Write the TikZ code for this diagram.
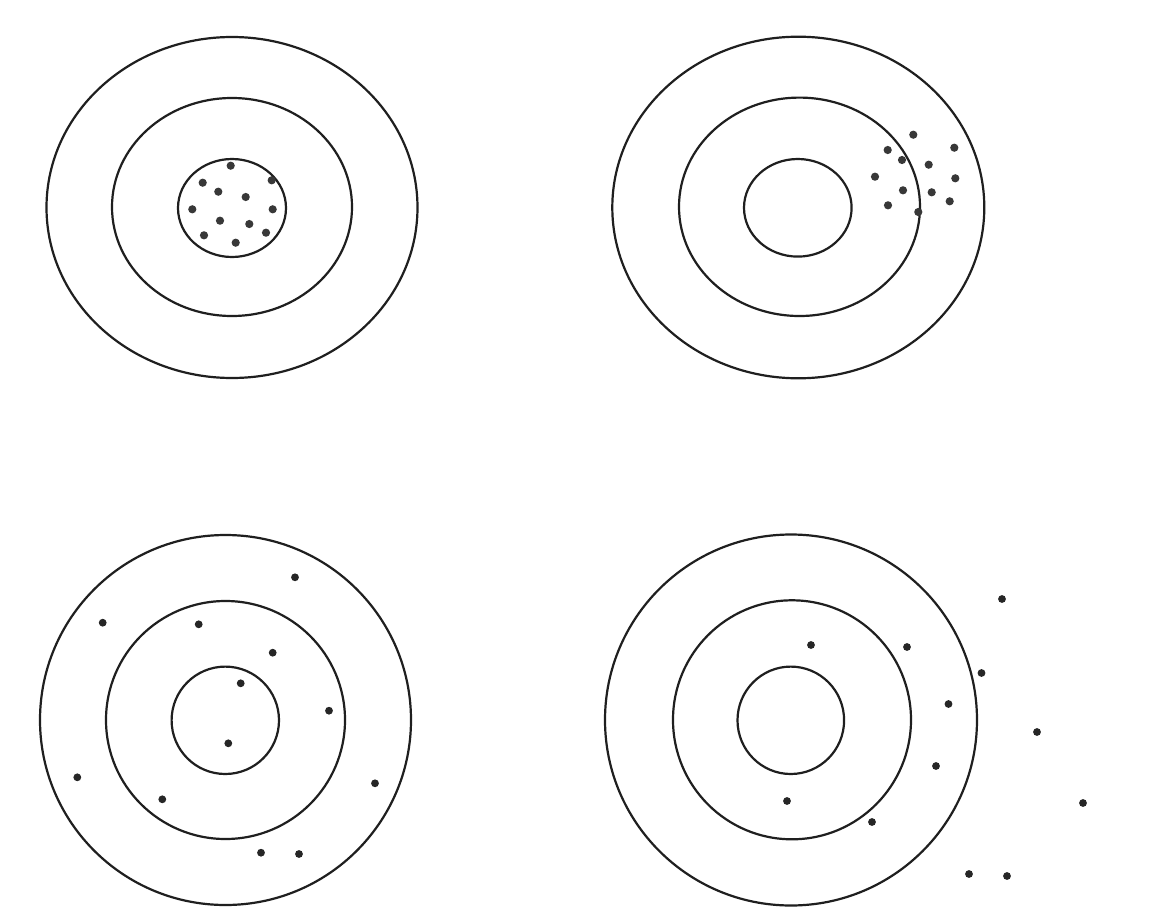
\documentclass[tikz,border=0pt]{standalone}
\begin{document}
\begin{tikzpicture}[x=1pt,y=-1pt,
  ring/.style={draw=black!88, line width=2.2pt},
  shot/.style={fill=black!85, draw=none},
  shotb/.style={fill=black!78, draw=none}]
\useasboundingbox[fill=white] (0,0) rectangle (1162,907);

% Target 1: tight cluster in the bull
\coordinate (t1) at (232,207.5);
\draw[ring] (t1) ellipse [x radius=185.5pt, y radius=170.5pt];
\draw[ring] (232,207) ellipse [x radius=120pt, y radius=109pt];
\draw[ring] (232,208) ellipse [x radius=54pt, y radius=49pt];
\foreach \p in {(230.7,165.7),(271.7,180.3),(202.7,182.7),(218.3,191.7),(245.7,197),(192.3,209.3),(272.7,209.3),(220,220.7),(249.3,224),(204,235.3),(266,232.7),(235.7,242.7)}
  \fill[shotb] \p circle[radius=4.1pt];

% Target 2: tight cluster off-centre
\coordinate (t2) at (798.3,207.5);
\draw[ring] (t2) ellipse [x radius=186pt, y radius=170.8pt];
\draw[ring] (799.5,206.8) ellipse [x radius=120.5pt, y radius=109.2pt];
\draw[ring] (797.8,207.8) ellipse [x radius=53.8pt, y radius=48.8pt];
\foreach \p in {(913.3,134.7),(887.7,150),(954.3,147.7),(902,160),(928.7,164.7),(875,176.7),(955.3,178.3),(903,190.3),(931.7,192.3),(888,205.3),(949.7,201.3),(918.3,212)}
  \fill[shotb] \p circle[radius=4.1pt];

% Target 3: wide scatter around centre
\coordinate (t3) at (225.5,720);
\draw[ring] (t3) ellipse [x radius=185.5pt, y radius=185pt];
\draw[ring] (t3) ellipse [x radius=119.5pt, y radius=119pt];
\draw[ring] (225.3,720.3) ellipse [x radius=53.7pt, y radius=53.7pt];
\foreach \p in {(295,577.3),(102.7,622.7),(198.7,624.3),(272.7,652.7),(240.7,683.3),(329,710.7),(228.3,743.3),(77.3,777.3),(375,783.3),(162.3,799.3),(261,852.7),(299,854)}
  \fill[shot] \p circle[radius=3.9pt];

% Target 4: wide scatter off-centre
\coordinate (t4) at (791,720);
\draw[ring] (t4) ellipse [x radius=186pt, y radius=185.5pt];
\draw[ring] (792,719.8) ellipse [x radius=119pt, y radius=119.5pt];
\draw[ring] (790.8,720.3) ellipse [x radius=53.3pt, y radius=53.7pt];
\foreach \p in {(1002,599),(811,645),(907,647),(981.5,673),(948.5,704),(1037,732),(936,766),(787,801),(1083,803),(872,822),(969,874),(1007,876)}
  \fill[shot] \p circle[radius=3.9pt];
\end{tikzpicture}
\end{document}
